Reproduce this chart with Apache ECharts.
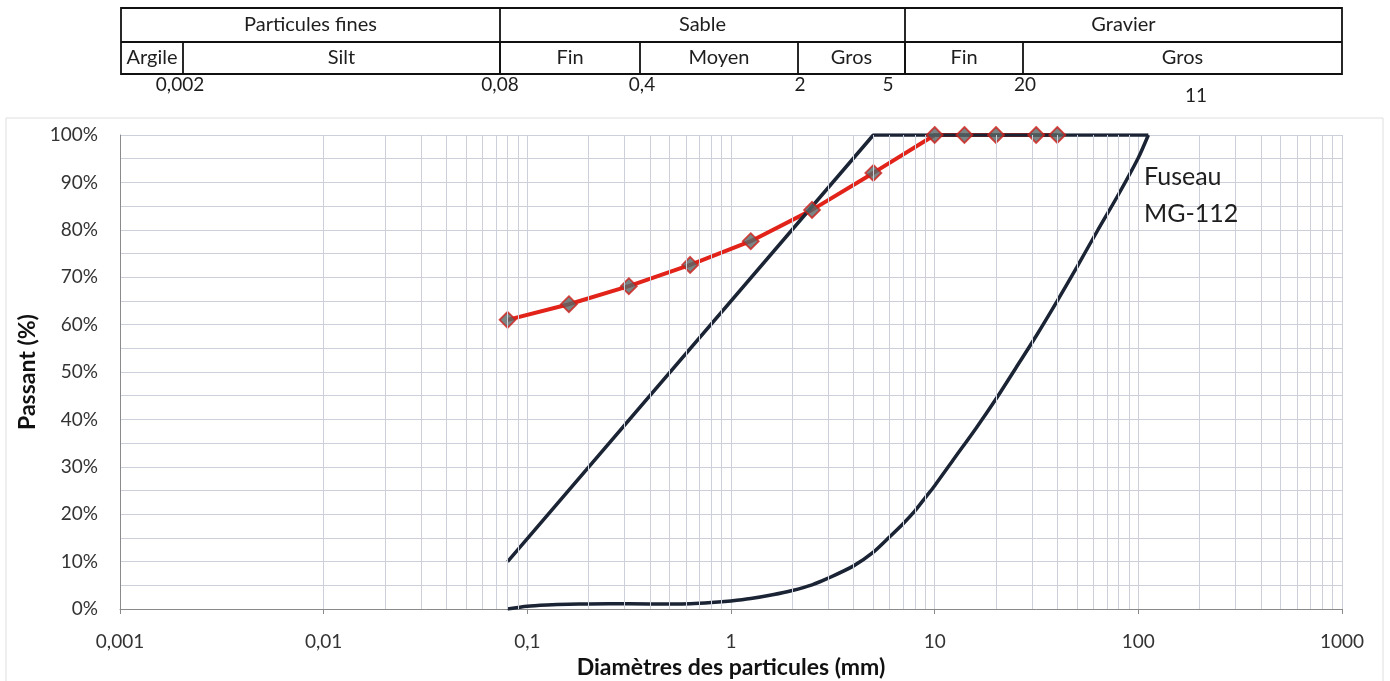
<!DOCTYPE html>
<html>
<head>
<meta charset="utf-8">
<script src="https://cdn.jsdelivr.net/npm/echarts@6/dist/echarts.min.js"></script>
<style>
html,body{margin:0;padding:0;background:#fff;}
#chart{width:1390px;height:681px;}
</style>
</head>
<body>
<div id="chart"></div>
<script>
// ---- Data ----
const sieveSizes = [0.08, 0.16, 0.315, 0.63, 1.25, 2.5, 5, 10, 14, 20, 31.5, 40];
const passing    = [61, 64.3, 68.1, 72.6, 77.6, 84.2, 92, 100, 100, 100, 100, 100];

const upperSizes = [0.08, 5, 112];
const upperPass  = [10, 100, 100];

const lowerSizes = [0.08, 0.1, 0.125, 0.16, 0.2, 0.315, 0.5, 0.63, 0.8, 1, 1.25, 1.6, 2, 2.5, 3, 4, 5, 6, 7, 8, 9, 10, 12.5, 16, 20, 25, 31.5, 40, 50, 63, 80, 100, 112];
const lowerPass  = [0, 0.6, 0.85, 1.0, 1.05, 1.1, 1.05, 1.1, 1.35, 1.7, 2.2, 3.0, 3.9, 5.1, 6.5, 9.1, 12, 15.2, 18, 20.7, 23.5, 26, 31.8, 38.2, 44.3, 50.8, 57.6, 65.0, 72.2, 79.8, 87.5, 95.2, 100];

const xTickLabels = ['0,001', '0,01', '0,1', '1', '10', '100', '1000'];
const decades = [0.001, 0.01, 0.1, 1, 10, 100];
const minorMultipliers = [2, 3, 4, 5, 6, 7, 8, 9];

// Top classification table
const tableTopRow = [
  {label: 'Particules fines', from: 121, to: 500},
  {label: 'Sable', from: 500, to: 905},
  {label: 'Gravier', from: 905, to: 1342}
];
const tableBottomRow = [
  {label: 'Argile', from: 121, to: 183},
  {label: 'Silt', from: 183, to: 500},
  {label: 'Fin', from: 500, to: 640},
  {label: 'Moyen', from: 640, to: 798},
  {label: 'Gros', from: 798, to: 905},
  {label: 'Fin', from: 905, to: 1023},
  {label: 'Gros', from: 1023, to: 1342}
];
const boundaryLabels = [
  {label: '0,002', x: 180, y: 85},
  {label: '0,08', x: 500, y: 85},
  {label: '0,4', x: 642, y: 85},
  {label: '2', x: 800, y: 85},
  {label: '5', x: 888, y: 85},
  {label: '20', x: 1025, y: 85},
  {label: '11', x: 1196, y: 96}
];

// ---- Build ----
const toPairs = (xs, ys) => xs.map((x, i) => [x, ys[i]]);
const gridColor = '#cdd0da';
const FONT = 'Lato, "Open Sans", sans-serif';
const TXT = '#1e1e1e';

const minorLines = [];
decades.forEach(d => minorMultipliers.forEach(m => minorLines.push({xAxis: +(d * m).toPrecision(6)})));

const T_TOP = 8, T_MID = 42, T_BOT = 74;
const graphics = [];
graphics.push({type: 'rect', z: -10, shape: {x: 6, y: 118, width: 1377, height: 570}, style: {fill: 'none', stroke: '#dedede', lineWidth: 1}, silent: true});
graphics.push({type: 'rect', shape: {x: 121, y: T_TOP, width: 1342 - 121, height: T_BOT - T_TOP}, style: {fill: '#fff', stroke: '#111', lineWidth: 1.8}});
graphics.push({type: 'line', shape: {x1: 121, y1: T_MID, x2: 1342, y2: T_MID}, style: {stroke: '#111', lineWidth: 1.8}});
tableTopRow.forEach((c, i) => {
  if (i > 0) graphics.push({type: 'line', shape: {x1: c.from, y1: T_TOP, x2: c.from, y2: T_BOT}, style: {stroke: '#111', lineWidth: 1.8}});
  graphics.push({type: 'text', x: (c.from + c.to) / 2, y: (T_TOP + T_MID) / 2, style: {text: c.label, font: '20px ' + FONT, fill: TXT, align: 'center', verticalAlign: 'middle'}});
});
tableBottomRow.forEach((c, i) => {
  if (i > 0) graphics.push({type: 'line', shape: {x1: c.from, y1: T_MID, x2: c.from, y2: T_BOT}, style: {stroke: '#111', lineWidth: 1.8}});
  graphics.push({type: 'text', x: (c.from + c.to) / 2, y: (T_MID + T_BOT) / 2, style: {text: c.label, font: '20px ' + FONT, fill: TXT, align: 'center', verticalAlign: 'middle'}});
});
boundaryLabels.forEach(b => {
  graphics.push({type: 'text', x: b.x, y: b.y, style: {text: b.label, font: '19px ' + FONT, fill: TXT, align: 'center', verticalAlign: 'middle'}});
});
graphics.push({type: 'text', z: 100, x: 1144, y: 177, style: {text: 'Fuseau', font: '25px ' + FONT, fill: TXT, align: 'left', verticalAlign: 'middle'}});
graphics.push({type: 'text', z: 100, x: 1144, y: 214, style: {text: 'MG-112', font: '25px ' + FONT, fill: TXT, align: 'left', verticalAlign: 'middle'}});

const chart = echarts.init(document.getElementById('chart'), null, {renderer: 'canvas'});
chart.setOption({
  animation: false,
  backgroundColor: '#fff',
  textStyle: {fontFamily: FONT},
  grid: {left: 120, right: 48, top: 135, bottom: 72, containLabel: false, outerBoundsMode: 'none'},
  xAxis: {
    type: 'log', logBase: 10, min: 0.001, max: 1000,
    name: 'Diamètres des particules (mm)', nameLocation: 'middle', nameGap: 46,
    nameTextStyle: {fontSize: 23, fontWeight: 'bold', color: '#111', fontFamily: FONT},
    axisLine: {show: true, lineStyle: {color: '#8a8a8a', width: 1}},
    axisTick: {show: true, length: 5, lineStyle: {color: '#8a8a8a'}},
    axisLabel: {fontSize: 19, color: '#333', margin: 23, formatter: (v, i) => xTickLabels[i] !== undefined ? xTickLabels[i] : ''},
    splitLine: {show: true, lineStyle: {color: gridColor, width: 1}}
  },
  yAxis: {
    type: 'value', min: 0, max: 100, interval: 10,
    name: 'Passant (%)', nameLocation: 'middle', nameGap: 78,
    nameTextStyle: {fontSize: 23, fontWeight: 'bold', color: '#111', fontFamily: FONT},
    axisLine: {show: true, lineStyle: {color: '#8a8a8a', width: 1}},
    axisTick: {show: false},
    axisLabel: {fontSize: 19, color: '#333', margin: 22, formatter: '{value}%'},
    splitLine: {show: true, lineStyle: {color: gridColor, width: 1}},
    minorTick: {show: false, splitNumber: 2},
    minorSplitLine: {show: true, lineStyle: {color: gridColor, width: 1}}
  },
  graphic: graphics,
  series: [
    {
      name: 'grid-minor', type: 'line', data: [], silent: true, z: 1,
      markLine: {silent: true, symbol: 'none', label: {show: false}, animation: false,
        lineStyle: {color: gridColor, width: 1, type: 'solid'}, data: minorLines}
    },
    {
      name: 'Échantillon', type: 'line', data: toPairs(sieveSizes, passing), z: 2,
      showSymbol: false, lineStyle: {color: '#e2231a', width: 4}
    },
    {
      name: 'Fuseau sup', type: 'line', data: toPairs(upperSizes, upperPass), z: 3,
      showSymbol: false, lineStyle: {color: '#1b2434', width: 3.5}
    },
    {
      name: 'Fuseau inf', type: 'line', data: toPairs(lowerSizes, lowerPass), z: 3,
      showSymbol: false, smooth: 0.25, lineStyle: {color: '#1b2434', width: 3.5}
    },
    {
      name: 'Points', type: 'scatter', data: toPairs(sieveSizes, passing), z: 4,
      symbol: 'diamond', symbolSize: 16,
      itemStyle: {color: '#586666', borderColor: '#cf1f1a', borderWidth: 1.8}
    }
  ]
});
</script>
</body>
</html>
